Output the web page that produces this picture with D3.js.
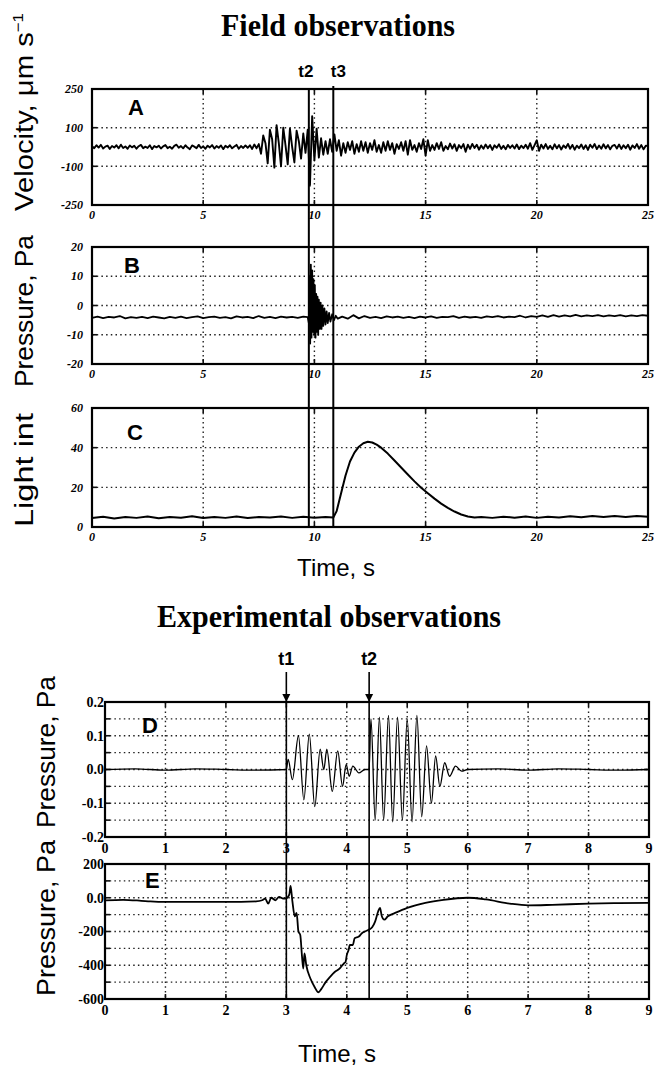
<!DOCTYPE html>
<html>
<head>
<meta charset="utf-8">
<script src="https://cdn.jsdelivr.net/npm/d3@7"></script>
<style>
  body { margin: 0; background: #fff; }
</style>
</head>
<body>
<div id="chart"></div>
<script>
// ---- field observations (time axis 0..25 s) ----
const fieldTicks = [0, 5, 10, 15, 20, 25];
const fieldMarks = [{ label: "t2", t: 9.75 }, { label: "t3", t: 10.85 }];

// A: ground velocity, sampled every 0.1 s
const velStep = 0.1;
const velTicks = [-250, -100, 100, 250];
const velocity = [
  4, -6, 9, -3, 11, -8, 2, 7, -10, 5,
  -3, 9, -7, 12, -5, 3, -9, 8, -2, 6,
  -9, 4, 11, -6, 2, -5, 9, -11, 5, -2,
  7, -8, 3, 10, -6, 1, -9, 6, 12, -4,
  5, -7, 9, -3, -11, 8, 2, -6, 11, -5,
  3, -9, 7, -2, 10, -8, 5, -4, 8, -11,
  6, -3, 9, -7, 2, 11, -9, 5, -5, 8,
  -4, 9, -10, 13, -6, 15, -35, 60, 20, -85,
  90, 40, -105, 110, 20, -100, 100, 10, -90, 95,
  0, -80, 85, 30, -60, 70, -30, 90, -175, 145,
  -70, 95, -55, 45, -40, 30, -35, 40, -25, 65,
  -20, 35, -45, 20, -30, 25, -15, 30, -35, 15,
  -25, 30, -20, 25, -30, 20, -15, 35, -25, 10,
  -30, 25, -20, 30, -15, 20, -35, 15, -10, 25,
  -20, 30, -40, 35, -15, 10, -25, 20, -10, 40,
  -45, 35, -20, 10, -15, 20, -10, 25, -20, 5,
  -12, 18, -8, 14, -20, 10, -6, 15, -25, 12,
  -10, 16, -5, 12, -14, 8, -9, 13, -6, 10,
  -15, 9, -4, 14, -10, 6, -12, 11, -5, 9,
  -8, 13, -11, 7, -6, 12, -9, 20, -15, 10,
  35, -20, 12, -8, 15, -10, 6, -12, 14, -7,
  10, -13, 8, -5, 16, -9, 11, -14, 7, -6,
  13, -10, 9, -15, 12, -4, 15, -11, 8, -9,
  14, -7, 10, -12, 6, 11, -8, 13, -10, 9,
  -6, 12, -14, 8, -5, 15, -9, 10, -12, 7,
  5
];

// B: acoustic pressure, [time, Pa]
const presTicks = [-20, -10, 0, 10, 20];
const pressureB = [
  [0, -4.2], [0.25, -3.8], [0.5, -4.3], [0.75, -3.9], [1, -4.1], [1.25, -3.6], [1.5, -4.4], [1.75, -4.0],
  [2, -4.2], [2.25, -3.9], [2.5, -4.3], [2.75, -3.8], [3, -4.1], [3.25, -4.4], [3.5, -3.9], [3.75, -4.2],
  [4, -3.8], [4.25, -4.3], [4.5, -4.0], [4.75, -3.7], [5, -4.3], [5.25, -4.0], [5.5, -3.8], [5.75, -4.2],
  [6, -4.0], [6.25, -4.4], [6.5, -3.7], [6.75, -4.1], [7, -3.9], [7.25, -4.3], [7.5, -3.6], [7.75, -4.2],
  [8, -3.9], [8.25, -4.3], [8.5, -3.8], [8.75, -4.1], [9, -3.9], [9.25, -4.2], [9.5, -3.8], [9.7, -4.0],
  [9.75, -6], [9.78, 10], [9.81, -13], [9.84, 14], [9.87, -11], [9.9, 12], [9.93, -9], [9.96, 9],
  [9.99, -10], [10.02, 7], [10.05, -11], [10.08, 4], [10.11, -9], [10.14, 3], [10.17, -10], [10.2, 2],
  [10.24, -8], [10.28, 1], [10.32, -8], [10.36, 0], [10.4, -7], [10.45, -1], [10.5, -6.5], [10.55, -2],
  [10.6, -6], [10.66, -2.5], [10.72, -5.5], [10.8, -3], [10.88, -5], [10.96, -3.5], [11.05, -4.5],
  [11.25, -3.8], [11.5, -4.5], [11.75, -3.3], [12, -4.4], [12.25, -3.6], [12.5, -4.2], [12.75, -3.9],
  [13, -4.3], [13.25, -3.7], [13.5, -4.1], [13.75, -3.8], [14, -4.2], [14.25, -3.9], [14.5, -4.3],
  [14.75, -3.8], [15, -4.1], [15.25, -3.7], [15.5, -4.2], [15.75, -3.9], [16, -4.0], [16.25, -3.6],
  [16.5, -4.2], [16.75, -3.8], [17, -4.1], [17.25, -3.9], [17.5, -4.2], [17.75, -3.7], [18, -4.0],
  [18.25, -3.6], [18.5, -4.1], [18.75, -3.8], [19, -4.0], [19.25, -3.5], [19.5, -4.1], [19.75, -3.6],
  [20, -3.9], [20.25, -3.4], [20.5, -3.9], [20.75, -3.3], [21, -3.8], [21.25, -3.4], [21.5, -3.7],
  [21.75, -3.2], [22, -3.7], [22.25, -3.4], [22.5, -3.6], [22.75, -3.3], [23, -3.7], [23.25, -3.4],
  [23.5, -3.6], [23.75, -3.3], [24, -3.7], [24.25, -3.4], [24.5, -3.6], [24.75, -3.3], [25, -3.5]
];

// C: light intensity, [time, value]
const lightTicks = [0, 20, 40, 60];
const lightC = [
  [0, 4.5], [0.5, 5.2], [1, 4.3], [1.5, 5.0], [2, 4.6], [2.5, 5.3], [3, 4.4], [3.5, 5.1], [4, 4.7],
  [4.5, 5.4], [5, 4.5], [5.5, 5.0], [6, 4.6], [6.5, 5.3], [7, 4.5], [7.5, 5.1], [8, 4.8], [8.5, 5.3],
  [9, 4.6], [9.5, 5.2], [10, 4.7], [10.5, 5.0], [10.85, 4.8],
  [11.0, 8], [11.2, 17], [11.4, 26], [11.6, 33], [11.8, 37.5], [12.0, 40.5], [12.2, 42.2], [12.4, 43],
  [12.6, 42.6], [12.8, 41.5], [13.0, 40], [13.3, 37], [13.6, 33.5], [13.9, 30], [14.2, 26.5], [14.5, 23],
  [14.8, 19.8], [15.1, 17], [15.4, 14.3], [15.7, 11.8], [16.0, 9.6], [16.3, 7.8], [16.6, 6.3], [16.9, 5.3],
  [17.2, 4.8], [17.5, 5.0], [18, 4.6], [18.5, 5.2], [19, 4.7], [19.5, 5.3], [20, 4.6], [20.5, 5.2],
  [21, 4.8], [21.5, 5.4], [22, 4.9], [22.5, 5.5], [23, 5.0], [23.5, 5.6], [24, 5.1], [24.5, 5.6], [25, 5.2]
];

// ---- experimental observations (time axis 0..9 s) ----
const expTicks = [0, 1, 2, 3, 4, 5, 6, 7, 8, 9];
const expMarks = [{ label: "t1", t: 3.0 }, { label: "t2", t: 4.37 }];

// D: pressure, extrema only, [time, Pa]
const dTicks = [-0.2, -0.1, 0, 0.1, 0.2];
const dGrid = [-0.15, -0.1, -0.05, 0, 0.05, 0.1, 0.15];
const pressureD = [
  [0, 0], [0.5, 0.002], [1, -0.002], [1.5, 0.002], [2, 0], [2.5, -0.002], [3.0, 0],
  [3.03, 0.03], [3.1, -0.03], [3.2, 0.1], [3.29, -0.09], [3.38, 0.105], [3.47, -0.11], [3.56, 0.06],
  [3.62, 0.0], [3.67, 0.06], [3.76, -0.065], [3.85, 0.055], [3.93, -0.05], [3.99, 0.015], [4.04, -0.02],
  [4.1, 0.01], [4.2, -0.01], [4.3, 0.0], [4.37, 0.0],
  [4.4, 0.15], [4.47, -0.15], [4.54, 0.155], [4.61, -0.15], [4.69, 0.16], [4.76, -0.155], [4.84, 0.155],
  [4.92, -0.15], [5.0, 0.15], [5.08, -0.155], [5.16, 0.16], [5.24, -0.14], [5.32, 0.07], [5.4, -0.1],
  [5.47, 0.04], [5.54, -0.05], [5.62, 0.02], [5.7, -0.02], [5.8, 0.01], [5.9, -0.005], [6.0, 0],
  [6.5, 0.002], [7, -0.002], [7.5, 0.002], [8, 0], [8.5, -0.002], [9, 0]
];

// E: pressure, [time, Pa]
const eTicks = [-600, -400, -200, 0, 200];
const eGrid = [-500, -400, -300, -200, -100, 0, 100];
const pressureE = [
  [0, -15], [0.3, -12], [0.6, -18], [0.75, -22], [1.0, -25], [1.5, -25], [2.0, -25], [2.5, -22],
  [2.6, -15], [2.65, -5], [2.7, -35], [2.75, 0], [2.82, -15], [2.88, 5], [2.95, -5], [3.0, -3],
  [3.05, 20], [3.07, 70], [3.1, -20], [3.14, -110], [3.17, -90], [3.2, -200], [3.23, -220],
  [3.26, -350], [3.28, -420], [3.3, -330], [3.33, -400], [3.4, -480], [3.47, -530], [3.53, -560],
  [3.58, -540], [3.65, -500], [3.72, -470], [3.8, -440], [3.88, -420], [3.95, -390], [3.98, -380],
  [4.0, -340], [4.03, -310], [4.05, -280], [4.1, -280], [4.13, -240], [4.2, -230], [4.25, -210],
  [4.3, -200], [4.36, -190], [4.42, -175], [4.47, -140], [4.52, -80], [4.55, -60], [4.58, -110],
  [4.62, -130], [4.68, -110], [4.8, -90], [5.0, -60], [5.3, -30], [5.6, -12], [6.0, 0], [6.3, -10],
  [6.7, -35], [7.0, -45], [7.4, -42], [8.0, -35], [8.5, -32], [9.0, -30]
];

const W = 663, H = 1069;
const svg = d3.select("#chart").append("svg")
  .attr("width", W).attr("height", H)
  .style("font-family", "'Liberation Sans', Arial, sans-serif");

const gridStyle = g => g.attr("stroke", "#222").attr("stroke-width", 1.4)
  .attr("stroke-dasharray", "1.5,3.2").attr("fill", "none");

function drawPanel(p) {
  const g = svg.append("g");
  const x = p.x, y = p.y;
  const [xa, xb] = x.range(), [yb, ya] = [y(y.domain()[0]), y(y.domain()[y.domain().length - 1])];

  // dotted grid
  g.selectAll(".vg").data(p.vGrid).join("line").call(gridStyle)
    .attr("x1", d => x(d)).attr("x2", d => x(d)).attr("y1", ya).attr("y2", yb);
  g.selectAll(".hg").data(p.hGrid).join("line").call(gridStyle)
    .attr("x1", xa).attr("x2", xb).attr("y1", d => y(d)).attr("y2", d => y(d));

  // small inward ticks
  const tk = g.append("g").attr("stroke", "#111").attr("stroke-width", 1.6);
  p.hGrid.forEach(d => {
    tk.append("line").attr("x1", xa).attr("x2", xa + 5).attr("y1", y(d)).attr("y2", y(d));
    tk.append("line").attr("x1", xb - 5).attr("x2", xb).attr("y1", y(d)).attr("y2", y(d));
  });
  p.vGrid.forEach(d => {
    tk.append("line").attr("x1", x(d)).attr("x2", x(d)).attr("y1", ya).attr("y2", ya + 5);
    tk.append("line").attr("x1", x(d)).attr("x2", x(d)).attr("y1", yb - 5).attr("y2", yb);
  });

  // signal
  const line = d3.line().x(d => x(d[0])).y(d => y(d[1])).curve(p.curve || d3.curveLinear);
  g.append("path").datum(p.data).attr("d", line)
    .attr("fill", "none").attr("stroke", "#000").attr("stroke-width", p.lw || 1.6)
    .attr("stroke-linejoin", "round");

  // frame
  g.append("rect").attr("x", xa).attr("y", ya).attr("width", xb - xa).attr("height", yb - ya)
    .attr("fill", "none").attr("stroke", "#000").attr("stroke-width", 2.2);

  // tick labels
  g.selectAll(".yl").data(p.yTicks).join("text")
    .attr("x", xa - p.yLabelGap).attr("y", d => y(d)).attr("dy", "0.35em")
    .attr("text-anchor", "end").style("font", p.tickFont)
    .text(p.yFormat);
  g.selectAll(".xl").data(p.xTicks).join("text")
    .attr("x", d => x(d)).attr("y", yb + p.xLabelGap)
    .attr("text-anchor", "middle").style("font", p.tickFont)
    .text(d => d);

  // panel letter
  g.append("text").attr("x", xa + p.letterDx).attr("y", ya + p.letterDy)
    .style("font", "bold 22px 'Liberation Sans', Arial, sans-serif").text(p.letter);
}

// ---- field panels ----
const fx = d3.scaleLinear().domain([0, 25]).range([92, 648]);
const fieldFont = "italic bold 12px 'Liberation Serif', serif";

const yA = d3.scaleLinear().domain([-250, -100, 100, 250]).range([205, 166.3, 127.7, 89]);
drawPanel({
  x: fx, y: yA, vGrid: [5, 10, 15, 20], hGrid: [-100, 100], yTicks: velTicks, xTicks: fieldTicks,
  data: velocity.map((v, i) => [i * velStep, v]), tickFont: fieldFont, yLabelGap: 9, xLabelGap: 14,
  lw: 1.9, yFormat: d => d, letter: "A", letterDx: 36, letterDy: 26
});

const yB = d3.scaleLinear().domain([-20, 20]).range([364, 247]);
drawPanel({
  x: fx, y: yB, vGrid: [5, 10, 15, 20], hGrid: [-10, 0, 10], yTicks: presTicks, xTicks: fieldTicks,
  data: pressureB, tickFont: fieldFont, yLabelGap: 9, xLabelGap: 14, lw: 1.8,
  yFormat: d => d, letter: "B", letterDx: 32, letterDy: 26
});

const yC = d3.scaleLinear().domain([0, 60]).range([527, 408]);
drawPanel({
  x: fx, y: yC, vGrid: [5, 10, 15, 20], hGrid: [20, 40], yTicks: lightTicks, xTicks: fieldTicks,
  data: lightC, tickFont: fieldFont, yLabelGap: 9, xLabelGap: 14, lw: 2,
  yFormat: d => d, letter: "C", letterDx: 35, letterDy: 32
});

// ---- experimental panels ----
const ex = d3.scaleLinear().domain([0, 9]).range([105, 649]);
const expFont = "bold 14px 'Liberation Serif', serif";

const yD = d3.scaleLinear().domain([-0.2, 0.2]).range([837, 702]);
drawPanel({
  x: ex, y: yD, vGrid: [1, 2, 3, 4, 5, 6, 7, 8], hGrid: dGrid, yTicks: dTicks, xTicks: expTicks,
  data: pressureD, curve: d3.curveMonotoneX, tickFont: expFont, yLabelGap: 1, xLabelGap: 16, lw: 1.3,
  yFormat: d => d.toFixed(1), letter: "D", letterDx: 37, letterDy: 31
});

const yE = d3.scaleLinear().domain([-600, 200]).range([999, 864]);
drawPanel({
  x: ex, y: yE, vGrid: [1, 2, 3, 4, 5, 6, 7, 8], hGrid: eGrid, yTicks: eTicks, xTicks: expTicks,
  data: pressureE, curve: d3.curveMonotoneX, tickFont: expFont, yLabelGap: 1, xLabelGap: 16, lw: 1.8,
  yFormat: d => d === 0 ? "0.0" : d, letter: "E", letterDx: 40, letterDy: 24
});

// ---- event markers ----
const marks = svg.append("g");
fieldMarks.forEach((m, i) => {
  marks.append("line").attr("x1", fx(m.t)).attr("x2", fx(m.t)).attr("y1", i ? 86 : 89).attr("y2", 527)
    .attr("stroke", "#000").attr("stroke-width", 2);
  marks.append("text").attr("x", fx(m.t) + (i ? 5 : -3)).attr("y", 77).attr("text-anchor", "middle")
    .style("font", "bold 17px 'Liberation Sans Narrow', 'Liberation Sans', sans-serif").text(m.label);
});
svg.append("defs").append("marker").attr("id", "arr").attr("viewBox", "0 0 10 10")
  .attr("refX", 10).attr("refY", 5).attr("markerWidth", 5).attr("markerHeight", 6).attr("orient", "auto")
  .append("path").attr("d", "M0,0L10,5L0,10z").attr("fill", "#000");
expMarks.forEach(m => {
  marks.append("line").attr("x1", ex(m.t)).attr("x2", ex(m.t)).attr("y1", 672).attr("y2", 702)
    .attr("stroke", "#000").attr("stroke-width", 1.6).attr("marker-end", "url(#arr)");
  marks.append("line").attr("x1", ex(m.t)).attr("x2", ex(m.t)).attr("y1", 702).attr("y2", 999)
    .attr("stroke", "#000").attr("stroke-width", 1.6);
  marks.append("text").attr("x", ex(m.t)).attr("y", 665).attr("text-anchor", "middle")
    .style("font", "bold 18px 'Liberation Sans Narrow', 'Liberation Sans', sans-serif").text(m.label);
});

// ---- titles and axis labels ----
const serifTitle = "bold 32px 'Liberation Serif', 'Times New Roman', serif";
svg.append("text").attr("x", 338).attr("y", 36).attr("text-anchor", "middle")
  .attr("textLength", 234).attr("lengthAdjust", "spacingAndGlyphs")
  .style("font", serifTitle).text("Field observations");
svg.append("text").attr("x", 329).attr("y", 627).attr("text-anchor", "middle")
  .attr("textLength", 344).attr("lengthAdjust", "spacingAndGlyphs")
  .style("font", serifTitle).text("Experimental observations");

const xTitle = "24px 'Liberation Sans Narrow', 'Liberation Sans', Arial, sans-serif";
svg.append("text").attr("x", 336).attr("y", 576).attr("text-anchor", "middle")
  .style("font", xTitle).text("Time, s");
svg.append("text").attr("x", 337).attr("y", 1062).attr("text-anchor", "middle")
  .style("font", xTitle).text("Time, s");

// rotated axis titles, stretched along their length like the original artwork
function vLabel(x, y, len, size) {
  return svg.append("text").attr("transform", `translate(${x},${y}) rotate(-90)`)
    .attr("text-anchor", "middle").attr("textLength", len).attr("lengthAdjust", "spacingAndGlyphs")
    .style("font", `${size}px 'Liberation Sans', Arial, sans-serif`);
}
const vl = vLabel(33, 112, 198, 26);
vl.append("tspan").text("Velocity, \u03bcm s");
vl.append("tspan").attr("dy", -10).style("font-size", "15px").text("\u22121");
vLabel(33, 311, 152, 26).text("Pressure, Pa");
vLabel(33, 470, 114, 26).text("Light int");
vLabel(55, 752, 152, 26).text("Pressure, Pa");
vLabel(55, 918, 156, 26).text("Pressure, Pa");
</script>
</body>
</html>
